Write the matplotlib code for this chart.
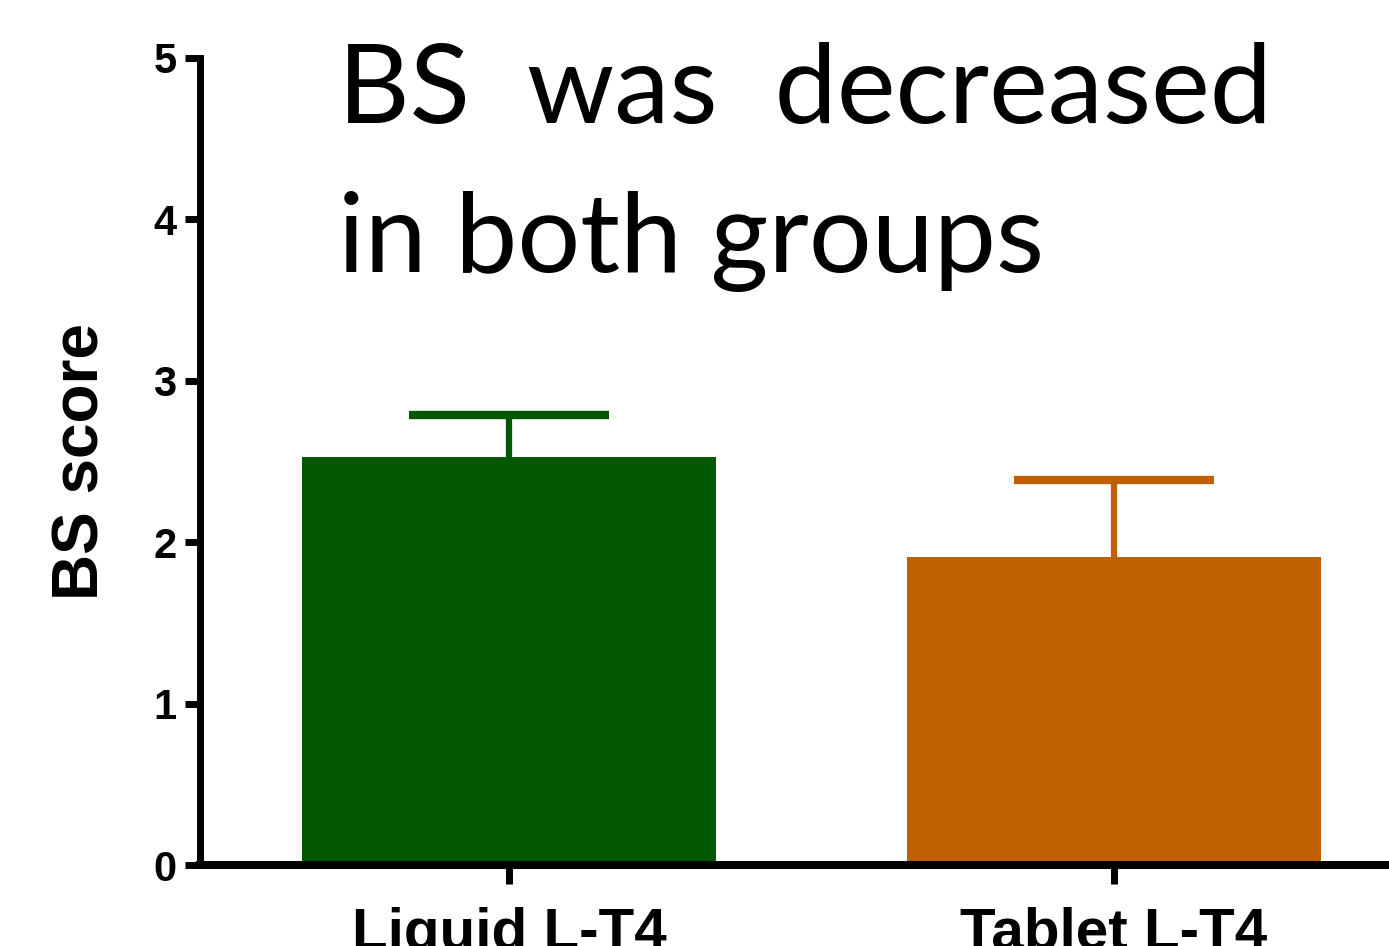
import matplotlib
matplotlib.use("Agg")
import matplotlib.pyplot as plt

categories = ["Liquid L-T4", "Tablet L-T4"]
means = [2.53, 1.91]
sem_upper = [0.26, 0.475]
colors = ["#015801", "#C06000"]
yticks = [0, 1, 2, 3, 4, 5]

fig = plt.figure(figsize=(13.89, 9.46), dpi=100)
ax = fig.add_axes([0.144, 0.0856, 0.856, 0.8531])

x = list(range(len(categories)))
ax.bar(x, means, width=0.684, color=colors, zorder=2)
for xi, m, e, c in zip(x, means, sem_upper, colors):
    ax.errorbar([xi], [m], yerr=[[0], [e]], fmt='none', ecolor=c,
                elinewidth=4.5, capsize=0, zorder=3)
    ax.plot([xi], [m + e], marker='_', markersize=144, markeredgewidth=6,
            color=c, zorder=3)

ax.set_xlim(-0.511, 1.455)
ax.set_ylim(0, 5)
ax.set_yticks(yticks)
ax.set_yticklabels([str(t) for t in yticks], fontsize=30, fontweight='bold',
                   family='Liberation Sans')
ax.set_xticks(x)
ax.set_xticklabels(categories, fontsize=42, fontweight='bold',
                   family='Liberation Sans')
ax.set_ylabel("BS score", fontsize=46, fontweight='bold',
              family='Liberation Sans', labelpad=30)

for s in ['top', 'right']:
    ax.spines[s].set_visible(False)
ax.spines['left'].set_linewidth(5)
ax.spines['bottom'].set_linewidth(5.8)
ax.spines['left'].set_bounds(0, 5)
ax.tick_params(axis='y', length=11, width=5, pad=6)
ax.tick_params(axis='x', length=14, width=5, pad=16)

fig.text(0.243, 0.87, "BS  was  decreased", fontsize=80, family='Lato',
         ha='left', va='baseline')
fig.text(0.243, 0.713, "in both groups", fontsize=80, family='Lato',
         ha='left', va='baseline')

fig.savefig("out.png", dpi=100)
